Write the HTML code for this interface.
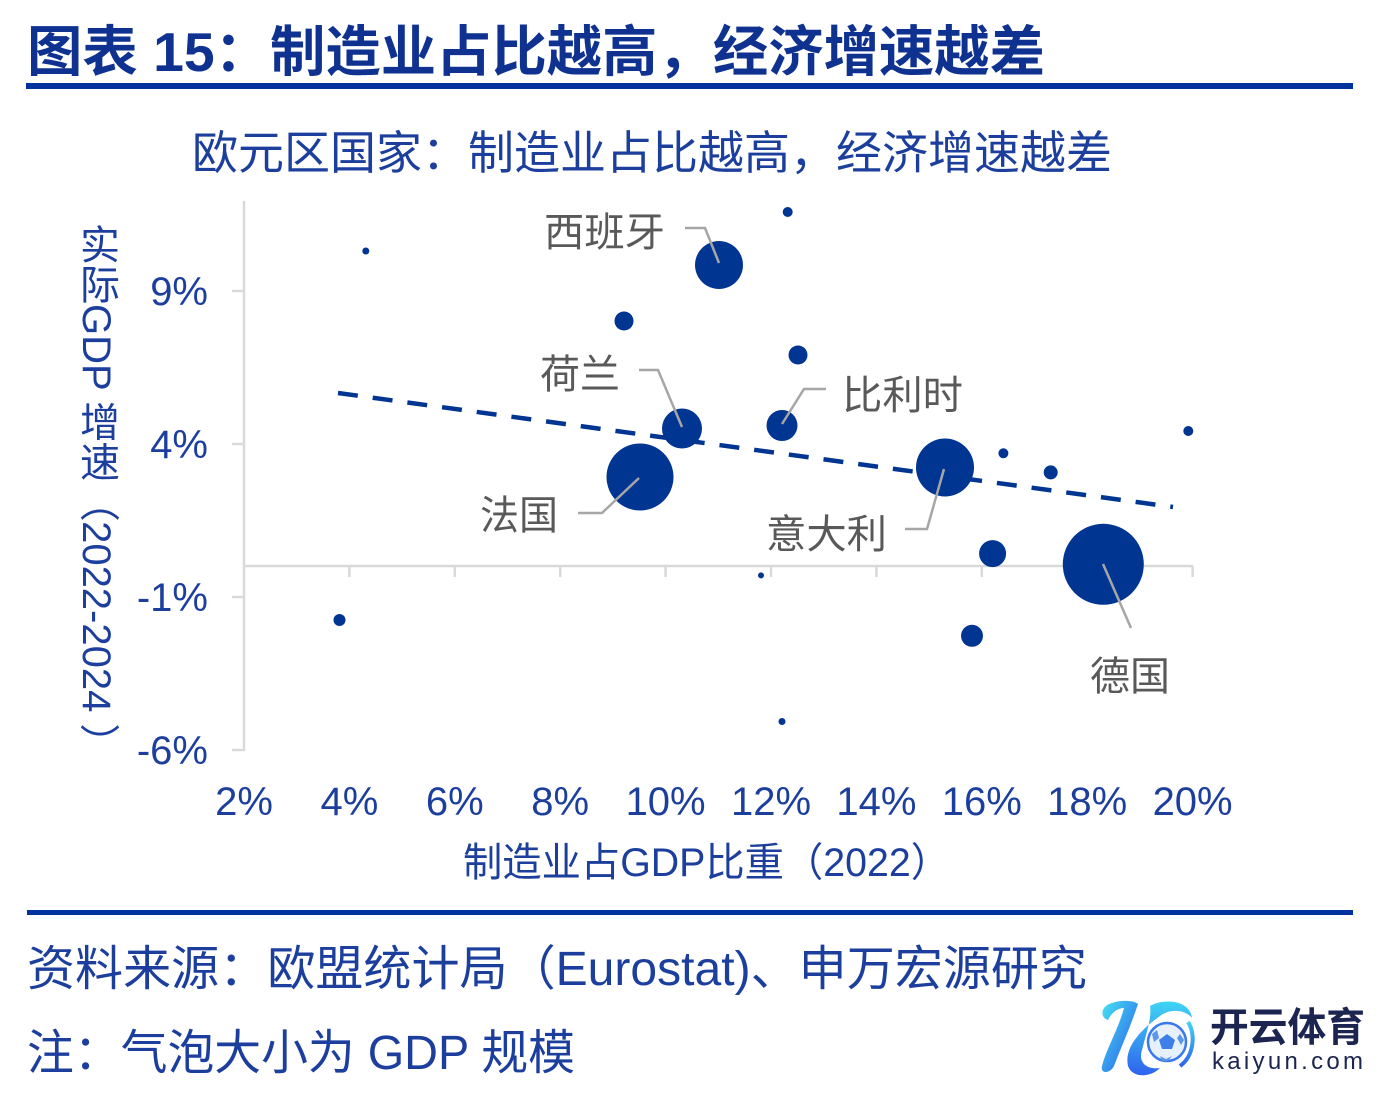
<!DOCTYPE html>
<html>
<head>
<meta charset="utf-8">
<style>
  html,body{margin:0;padding:0;background:#fff;}
  body{width:1380px;height:1096px;position:relative;overflow:hidden;}
  svg{position:absolute;left:0;top:0;}
  .ytitle{position:absolute;left:74px;top:224px;width:44px;height:530px;
    writing-mode:vertical-rl;font-family:"Liberation Sans","Noto Sans CJK SC",sans-serif;
    font-size:40px;line-height:44px;color:#1c3f9e;white-space:nowrap;}
</style>
</head>
<body>
<svg width="1380" height="1096" viewBox="0 0 1380 1096" xmlns="http://www.w3.org/2000/svg">
  <defs>
    <linearGradient id="kg" x1="0" y1="0" x2="1" y2="1">
      <stop offset="0" stop-color="#45e3f2"/>
      <stop offset="1" stop-color="#2a52e8"/>
    </linearGradient>
    <linearGradient id="kg2" x1="0" y1="0" x2="0" y2="1">
      <stop offset="0" stop-color="#3fd5f3"/>
      <stop offset="1" stop-color="#2f63ee"/>
    </linearGradient>
  </defs>

  <!-- Title -->
  <text x="27" y="71" font-family="'Liberation Sans','Noto Sans CJK SC',sans-serif" font-size="55" font-weight="bold" fill="#0f3291" textLength="1018" lengthAdjust="spacingAndGlyphs">图表 15：制造业占比越高，经济增速越差</text>
  <rect x="26" y="83" width="1327" height="6" fill="#0033a0"/>

  <!-- Subtitle -->
  <text x="192" y="169" font-family="'Liberation Sans','Noto Sans CJK SC',sans-serif" font-size="46" fill="#1c3f9e" textLength="920" lengthAdjust="spacingAndGlyphs">欧元区国家：制造业占比越高，经济增速越差</text>

  <!-- Axes -->
  <g stroke="#d9d9d9" stroke-width="2.5" fill="none">
    <line x1="244" y1="201" x2="244" y2="751"/>
    <line x1="232" y1="291" x2="244" y2="291"/>
    <line x1="232" y1="444" x2="244" y2="444"/>
    <line x1="232" y1="597" x2="244" y2="597"/>
    <line x1="232" y1="750" x2="244" y2="750"/>
    <line x1="244" y1="566" x2="1193" y2="566"/>
    <line x1="349.4" y1="566" x2="349.4" y2="577"/>
    <line x1="454.8" y1="566" x2="454.8" y2="577"/>
    <line x1="560.2" y1="566" x2="560.2" y2="577"/>
    <line x1="665.6" y1="566" x2="665.6" y2="577"/>
    <line x1="771" y1="566" x2="771" y2="577"/>
    <line x1="876.4" y1="566" x2="876.4" y2="577"/>
    <line x1="981.8" y1="566" x2="981.8" y2="577"/>
    <line x1="1087.2" y1="566" x2="1087.2" y2="577"/>
    <line x1="1192.6" y1="566" x2="1192.6" y2="577"/>
  </g>

  <!-- Y tick labels -->
  <g font-family="'Liberation Sans',sans-serif" font-size="40" fill="#1c3f9e" text-anchor="end">
    <text x="208" y="305">9%</text>
    <text x="208" y="458">4%</text>
    <text x="208" y="611">-1%</text>
    <text x="208" y="764">-6%</text>
  </g>

  <!-- X tick labels -->
  <g font-family="'Liberation Sans',sans-serif" font-size="40" fill="#1c3f9e" text-anchor="middle">
    <text x="244" y="815">2%</text>
    <text x="349.4" y="815">4%</text>
    <text x="454.8" y="815">6%</text>
    <text x="560.2" y="815">8%</text>
    <text x="665.6" y="815">10%</text>
    <text x="771" y="815">12%</text>
    <text x="876.4" y="815">14%</text>
    <text x="981.8" y="815">16%</text>
    <text x="1087.2" y="815">18%</text>
    <text x="1192.6" y="815">20%</text>
  </g>

  <!-- X axis title -->
  <text x="463" y="876" font-family="'Liberation Sans','Noto Sans CJK SC',sans-serif" font-size="40" fill="#1c3f9e" textLength="487" lengthAdjust="spacingAndGlyphs">制造业占GDP比重（2022）</text>

  <!-- Bubbles -->
  <g fill="#003591">
    <circle cx="719" cy="265" r="24"/>
    <circle cx="365.8" cy="251" r="3.5"/>
    <circle cx="787.7" cy="212" r="5"/>
    <circle cx="624" cy="321" r="9.5"/>
    <circle cx="798" cy="355" r="9.5"/>
    <circle cx="682" cy="428.5" r="20"/>
    <circle cx="782" cy="425.5" r="15.5"/>
    <circle cx="640" cy="477" r="33.5"/>
    <circle cx="945" cy="467.5" r="29"/>
    <circle cx="1003.4" cy="453.3" r="5"/>
    <circle cx="1050.7" cy="472.4" r="7"/>
    <circle cx="1188.3" cy="431" r="5"/>
    <circle cx="992.6" cy="553.6" r="13.5"/>
    <circle cx="1103.3" cy="564.3" r="40.5"/>
    <circle cx="972" cy="635.8" r="11"/>
    <circle cx="761" cy="575.4" r="3"/>
    <circle cx="782" cy="721.5" r="3.5"/>
    <circle cx="339.5" cy="620" r="6"/>
  </g>

  <!-- Trend line -->
  <line x1="338" y1="393" x2="1173" y2="507" stroke="#003591" stroke-width="4.5" stroke-dasharray="20 15"/>

  <!-- Leader lines -->
  <g stroke="#a6a6a6" stroke-width="2.5" fill="none">
    <polyline points="685,228 705,228 719,263"/>
    <polyline points="639,370 658,370 682,427"/>
    <polyline points="578,513 602,513 639,478"/>
    <polyline points="826,389 804,389 782,424"/>
    <polyline points="905,529 927,529 944,469"/>
    <polyline points="1103,564 1131,628"/>
  </g>

  <!-- Country labels -->
  <g font-family="'Liberation Sans','Noto Sans CJK SC',sans-serif" font-size="40" fill="#595959">
    <text x="544" y="246" textLength="121" lengthAdjust="spacingAndGlyphs">西班牙</text>
    <text x="540" y="388" textLength="80" lengthAdjust="spacingAndGlyphs">荷兰</text>
    <text x="480" y="529" textLength="78" lengthAdjust="spacingAndGlyphs">法国</text>
    <text x="842" y="409" textLength="121" lengthAdjust="spacingAndGlyphs">比利时</text>
    <text x="766" y="548" textLength="121" lengthAdjust="spacingAndGlyphs">意大利</text>
    <text x="1090" y="690" textLength="80" lengthAdjust="spacingAndGlyphs">德国</text>
  </g>

  <!-- Bottom rule and notes -->
  <rect x="27" y="910" width="1326" height="5" fill="#0033a0"/>
  <text x="27" y="985" font-family="'Liberation Sans','Noto Sans CJK SC',sans-serif" font-size="48" fill="#1c3f9e" textLength="1060" lengthAdjust="spacingAndGlyphs">资料来源：欧盟统计局（Eurostat)、申万宏源研究</text>
  <text x="27" y="1069" font-family="'Liberation Sans','Noto Sans CJK SC',sans-serif" font-size="48" fill="#1c3f9e" textLength="548" lengthAdjust="spacingAndGlyphs">注：气泡大小为 GDP 规模</text>

  <!-- Watermark logo -->
  <g>
    <path d="M1112,1003 C1100,1006 1100,1018 1108,1020 C1112,1012 1118,1008 1124,1008 C1118,1030 1106,1050 1102,1066 C1100,1074 1110,1074 1114,1066 C1120,1050 1130,1028 1138,1004 C1134,1000 1120,1000 1112,1003 Z" fill="url(#kg)"/>
    <path d="M1150,1006 C1164,998 1190,1000 1192,1018 C1186,1010 1170,1008 1160,1016 C1140,1030 1124,1048 1128,1066 C1132,1078 1150,1078 1160,1068 C1146,1070 1138,1062 1142,1050 C1146,1034 1152,1018 1150,1006 Z" fill="url(#kg2)"/>
    <path d="M1188,1022 C1196,1034 1194,1056 1180,1066" stroke="url(#kg2)" stroke-width="4" fill="none"/>
    <circle cx="1167" cy="1042" r="19" fill="#e6f1fc" stroke="#3a78ee" stroke-width="2.5"/>
    <polygon points="1167,1034 1175,1040 1172,1049 1162,1049 1159,1040" fill="#3f7fe9"/>
    <polygon points="1152,1034 1157,1030 1159,1038 1154,1042" fill="#5b95ec"/>
    <polygon points="1180,1034 1184,1040 1181,1045 1177,1038" fill="#5b95ec"/>
    <polygon points="1160,1056 1166,1059 1172,1056 1168,1061 1162,1061" fill="#5b95ec"/>
  </g>
  <text x="1210" y="1041" font-family="'Noto Sans CJK SC',sans-serif" font-size="40" font-weight="bold" fill="#1b2550" textLength="155" lengthAdjust="spacingAndGlyphs">开云体育</text>
  <text x="1212" y="1069" font-family="'Liberation Sans',sans-serif" font-size="24" fill="#1b2550" textLength="151" lengthAdjust="spacing">kaiyun.com</text>
</svg>

<div class="ytitle">实际GDP 增速（2022-2024 ）</div>
</body>
</html>
